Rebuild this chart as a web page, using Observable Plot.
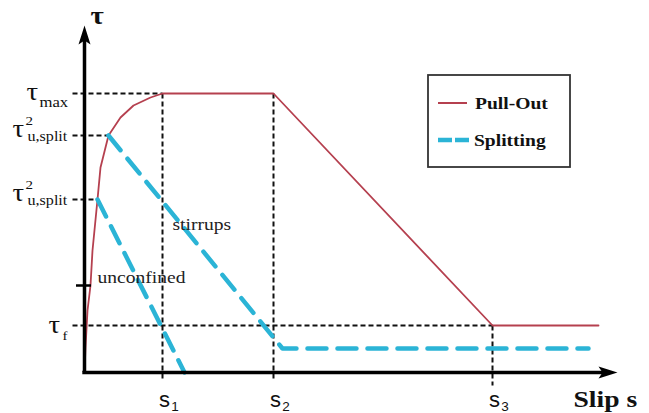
<!DOCTYPE html>
<html>
<head>
<meta charset="utf-8">
<script src="https://cdn.jsdelivr.net/npm/d3@7"></script>
<script src="https://cdn.jsdelivr.net/npm/@observablehq/plot@0.6"></script>
<style>
  html, body { margin: 0; padding: 0; background: #fff; }
  svg { display: block; }
</style>
</head>
<body>
<script>
// ---- characteristic values (arbitrary units) ----
const s1 = 0.78, s2 = 1.89, s3 = 4.08, sEnd = 5.14;
const tauMax = 2.79, tauSplitStirrups = 2.37, tauSplitUnconfined = 1.73;
const tauF = 0.47, tauResidual = 0.24, tauMinorTick = 0.87;
const sSplitStirrups = 0.24, sSplitUnconfined = 0.13;
const xAxisEnd = 5.33, yAxisEnd = 3.47;

// Pull-out bond-slip curve (s, tau)
const pullOutS   = [0, 0.01, 0.03, 0.06, 0.08, 0.13, 0.16, 0.24, 0.36, 0.49, 0.66, 0.78, 1.89, 4.08, 5.14];
const pullOutTau = [0, 0.25, 0.62, 0.87, 1.22, 1.73, 2.05, 2.37, 2.55, 2.67, 2.75, 2.79, 2.79, 0.47, 0.47];

// Splitting branches
const unconfinedS   = [0.13, 1.00];
const unconfinedTau = [1.73, 0];
const stirrupsS     = [0.24, 1.98, 5.04];
const stirrupsTau   = [2.37, 0.24, 0.24];

// Tick labels
const sTicks = [s1, s2, s3];
const sTickSubs = ["1", "2", "3"];

// Annotations
const annotationText = ["stirrups", "unconfined"];
const annotationS    = [0.88, 0.13];
const annotationTau  = [1.48, 0.95];

// Legend
const legendLabels = ["Pull-Out", "Splitting"];

const RED = "#b5404f";
const CYAN = "#2bb4d6";
const SERIF = "Liberation Serif, Times New Roman, serif";
const SANS = "Liberation Sans, Arial, sans-serif";

const pullOut = pullOutS.map((s, i) => ({s, tau: pullOutTau[i]}));
const splitting = [
  ...unconfinedS.map((s, i) => ({branch: "unconfined", s, tau: unconfinedTau[i]})),
  ...stirrupsS.map((s, i) => ({branch: "stirrups", s, tau: stirrupsTau[i]}))
];
const refH = [
  {tau: tauMax, s: s1},
  {tau: tauSplitStirrups, s: sSplitStirrups},
  {tau: tauSplitUnconfined, s: sSplitUnconfined},
  {tau: tauF, s: s3}
];
const refV = [
  {s: s1, top: tauMax, bottom: -0.09},
  {s: s2, top: tauMax, bottom: -0.09},
  {s: s3, top: tauF, bottom: -0.13}
];
const annotations = annotationText.map((t, i) => ({t, s: annotationS[i], tau: annotationTau[i]}));

// filled arrow head, tip at origin pointing up
const arrowHead = {
  draw(ctx) {
    ctx.moveTo(0, 0);
    ctx.lineTo(6, 19);
    ctx.lineTo(0, 15);
    ctx.lineTo(-6, 19);
    ctx.closePath();
  }
};

const dashed = {stroke: "#111", strokeWidth: 2, strokeDasharray: "5,3"};

const chart = Plot.plot({
  width: 649,
  height: 413,
  marginLeft: 84,
  marginRight: 32,
  marginTop: 25,
  marginBottom: 41,
  x: {domain: [0, xAxisEnd], axis: null},
  y: {domain: [0, yAxisEnd], axis: null},
  style: {background: "#fff", overflow: "visible"},
  marks: [
    // reference dashed lines
    Plot.link(refH, {x1: -0.12, x2: "s", y1: "tau", y2: "tau", ...dashed}),
    Plot.link(refV, {x1: "s", x2: "s", y1: "top", y2: "bottom", ...dashed}),
    // pull-out curve
    Plot.line(pullOut, {x: "s", y: "tau", stroke: RED, strokeWidth: 1.8}),
    // splitting curves
    Plot.line(splitting, {x: "s", y: "tau", z: "branch", stroke: CYAN, strokeWidth: 4.5, strokeDasharray: "19,11"}),
    // axes
    Plot.ruleY([0], {x1: -0.017, x2: xAxisEnd - 0.1, stroke: "#000", strokeWidth: 3.5}),
    Plot.ruleX([0], {y1: 0, y2: yAxisEnd - 0.1, stroke: "#000", strokeWidth: 3.5}),
    Plot.dot([{s: xAxisEnd, tau: 0, rot: 90}, {s: 0, tau: yAxisEnd, rot: 0}],
      {x: "s", y: "tau", rotate: "rot", r: 1, symbol: arrowHead, fill: "#000", stroke: null}),
    Plot.ruleY([tauMinorTick], {x1: -0.08, x2: 0.07, stroke: "#000", strokeWidth: 2.5}),
    // y labels
    Plot.text([tauMax], {x: 0, y: d => d, text: () => "τ", textAnchor: "start", dx: -58, dy: -2, fontSize: 25, fontFamily: SERIF, fill: "#111"}),
    Plot.text([tauMax], {x: 0, y: d => d, text: () => "max", textAnchor: "start", dx: -45, dy: 9, fontSize: 14.5, fontFamily: SERIF, fill: "#111"}),
    Plot.text([tauSplitStirrups, tauSplitUnconfined], {x: 0, y: d => d, text: () => "τ", textAnchor: "start", dx: -72, dy: -7, fontSize: 25, fontFamily: SERIF, fill: "#111"}),
    Plot.text([tauSplitStirrups, tauSplitUnconfined], {x: 0, y: d => d, text: () => "2", textAnchor: "start", dx: -59, dy: -14.5, fontSize: 13, fontFamily: SERIF, fill: "#111"}),
    Plot.text([tauSplitStirrups, tauSplitUnconfined], {x: 0, y: d => d, text: () => "u,split", textAnchor: "start", dx: -57, dy: 1.5, fontSize: 14, fontFamily: SERIF, fill: "#111"}),
    Plot.text([tauF], {x: 0, y: d => d, text: () => "τ", textAnchor: "start", dx: -36, dy: -1, fontSize: 25, fontFamily: SERIF, fill: "#111"}),
    Plot.text([tauF], {x: 0, y: d => d, text: () => "f", textAnchor: "start", dx: -22, dy: 10, fontSize: 13, fontFamily: SERIF, fill: "#111"}),
    Plot.text([yAxisEnd], {x: 0, y: d => d, text: () => "τ", textAnchor: "start", dx: 6, dy: -10, fontSize: 25, fontWeight: "bold", fontFamily: SERIF, fill: "#111"}),
    // x labels
    Plot.text(sTicks, {x: d => d, y: 0, text: () => "s", dx: 2, dy: 27, fontSize: 22, fontFamily: SANS, fill: "#111"}),
    Plot.text(sTicks, {x: d => d, y: 0, text: (d, i) => sTickSubs[i], dx: 12.5, dy: 34.5, fontSize: 13.5, fontFamily: SANS, fill: "#111"}),
    Plot.text([xAxisEnd], {x: d => d, y: 0, text: () => "Slip s", textAnchor: "start", dx: -44, dy: 27, fontSize: 24, fontWeight: "bold", fontFamily: SERIF, fill: "#111"}),
    // annotations
    Plot.text(annotations, {x: "s", y: "tau", text: "t", textAnchor: "start", fontSize: 17, fontFamily: SERIF, fill: "#222"})
  ]
});

document.body.append(chart);

// legend (inside the plot area, top right)
const svg = d3.select(chart);
const lg = svg.append("g").attr("text-anchor", "start");
lg.append("rect").attr("x", 428).attr("y", 75).attr("width", 142).attr("height", 92)
  .attr("fill", "#fff").attr("stroke", "#333").attr("stroke-width", 1.8);
lg.append("line").attr("x1", 438).attr("x2", 467).attr("y1", 103).attr("y2", 103)
  .attr("stroke", RED).attr("stroke-width", 2);
lg.append("line").attr("x1", 438).attr("x2", 472).attr("y1", 140).attr("y2", 140)
  .attr("stroke", CYAN).attr("stroke-width", 4.5).attr("stroke-dasharray", "14,3");
lg.selectAll("text.lbl").data(legendLabels).join("text")
  .attr("class", "lbl")
  .attr("text-anchor", "start")
  .attr("x", (d, i) => i === 0 ? 475 : 474)
  .attr("y", (d, i) => i === 0 ? 109 : 146)
  .attr("font-family", SERIF).attr("font-weight", "bold").attr("font-size", 17)
  .attr("fill", "#111")
  .text(d => d);

// the reference's serif lettering is slightly stretched horizontally
chart.querySelectorAll("text").forEach(t => {
  const ff = getComputedStyle(t).fontFamily;
  if (/Serif/i.test(ff) && !/Sans/i.test(ff)) {
    const L = t.getComputedTextLength();
    t.setAttribute("textLength", (L * 1.15).toFixed(1));
    t.setAttribute("lengthAdjust", "spacingAndGlyphs");
  }
});
</script>
</body>
</html>
